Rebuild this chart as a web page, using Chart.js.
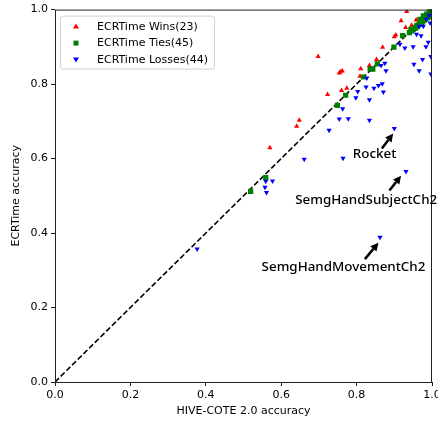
<!DOCTYPE html>
<html>
<head>
<meta charset="utf-8">
<script src="https://cdn.jsdelivr.net/npm/chart.js@4"></script>
<style>
  html, body { margin: 0; padding: 0; background: #fff; overflow: hidden; }
  #wrap { width: 438px; height: 423px; overflow: hidden; }
</style>
</head>
<body>
<div id="wrap"><canvas id="myChart" width="460" height="423" style="width:460px;height:423px"></canvas></div>
<script>
// ECRTime wins (above the diagonal)
const winsX = [0.933, 0.918, 0.930, 0.946, 0.904, 0.900, 0.921, 0.869, 0.698, 0.853, 0.834, 0.811,
    0.754, 0.762, 0.757, 0.809, 0.760, 0.774, 0.723, 0.648, 0.641, 0.570, 0.958];
const winsY = [0.995, 0.970, 0.952, 0.958, 0.932, 0.927, 0.930, 0.899, 0.874, 0.866, 0.850, 0.841,
    0.830, 0.835, 0.833, 0.821, 0.783, 0.789, 0.772, 0.703, 0.687, 0.629, 0.972];

// ties (on the diagonal)
const tiesX = [0.519, 0.559, 0.749, 0.771, 0.818, 0.836, 0.843, 0.855, 0.899, 0.922, 0.946, 0.959,
    0.968, 0.977, 0.986, 0.995, 1.000, 1.000, 1.000, 0.998, 0.997, 0.996, 0.994, 0.993, 0.991,
    0.990, 0.988, 0.987, 0.985, 0.983, 0.982, 0.980, 0.979, 0.976, 0.974, 0.972, 0.970, 0.966,
    0.963, 0.961, 0.957, 0.953, 0.950, 0.940, 0.944];
const tiesY = [0.512, 0.549, 0.743, 0.770, 0.819, 0.841, 0.840, 0.854, 0.899, 0.930, 0.943, 0.956,
    0.974, 0.983, 0.988, 0.996, 1.000, 0.997, 0.993, 0.995, 0.990, 0.998, 0.986, 0.992, 0.984,
    0.980, 0.985, 0.978, 0.982, 0.975, 0.979, 0.972, 0.976, 0.970, 0.968, 0.965, 0.962, 0.960,
    0.958, 0.955, 0.950, 0.951, 0.946, 0.938, 0.947];

// ECRTime losses (below the diagonal)
const lossX = [0.995, 0.977, 0.966, 0.959, 0.971, 0.990, 0.984, 0.950, 0.928, 0.915, 0.997, 0.975,
    0.952, 0.966, 0.997, 0.875, 0.865, 0.878, 0.827, 0.868, 0.858, 0.846, 0.825, 0.803, 0.871,
    0.798, 0.834, 0.763, 0.754, 0.778, 0.834, 0.727, 0.900, 0.661, 0.764, 0.931, 0.559, 0.577,
    0.557, 0.561, 0.862, 0.377, 0.985, 0.992];
const lossY = [0.964, 0.955, 0.955, 0.934, 0.930, 0.912, 0.900, 0.900, 0.897, 0.907, 0.874, 0.866,
    0.853, 0.836, 0.827, 0.856, 0.850, 0.836, 0.816, 0.801, 0.796, 0.789, 0.792, 0.780, 0.779,
    0.763, 0.758, 0.734, 0.706, 0.707, 0.703, 0.676, 0.681, 0.598, 0.601, 0.565, 0.539, 0.540,
    0.523, 0.509, 0.389, 0.357, 0.975, 0.985];

const legendLabels = ["ECRTime Wins(23)", "ECRTime Ties(45)", "ECRTime Losses(44)"];

// labelled datasets: text position, arrow tail and arrow tip (data units)
const annoLabels = ["Rocket", "SemgHandSubjectCh2", "SemgHandMovementCh2"];
const annoTextX = [0.790, 0.637, 0.548];
const annoTextY = [0.611, 0.487, 0.309];
const arrowFromX = [0.867, 0.887, 0.822];
const arrowFromY = [0.627, 0.514, 0.330];
const arrowToX = [0.897, 0.918, 0.858];
const arrowToY = [0.667, 0.554, 0.374];

const toPoints = (xs, ys) => xs.map((x, i) => ({ x: x, y: ys[i] }));

const tickFont = { family: "DejaVu Sans", size: 11 };

const extras = {
    id: "extras",
    afterDraw(chart) {
        const c = chart.ctx;
        const a = chart.chartArea;
        const sx = chart.scales.x, sy = chart.scales.y;
        c.save();
        // frame
        c.strokeStyle = "#222";
        c.lineWidth = 1;
        c.strokeRect(a.left + 0.5, a.top + 0.5, a.right - a.left - 1, a.bottom - a.top);

        // legend box
        const bx = a.left + 5, by = a.top + 6, bw = 154, bh = 53;
        c.fillStyle = "rgba(255,255,255,0.85)";
        c.strokeStyle = "#d0d0d0";
        c.beginPath();
        c.roundRect(bx + 0.5, by + 0.5, bw, bh, 3);
        c.fill();
        c.stroke();
        const colors = ["#ff0000", "#008000", "#0000ff"];
        c.font = "11px 'DejaVu Sans'";
        c.textBaseline = "middle";
        legendLabels.forEach((lbl, i) => {
            const my = by + 11 + i * 16.5, mx = bx + 16;
            c.fillStyle = colors[i];
            c.beginPath();
            if (i === 0) {
                c.moveTo(mx, my - 3); c.lineTo(mx + 3, my + 2); c.lineTo(mx - 3, my + 2);
            } else if (i === 1) {
                c.rect(mx - 2.5, my - 2.5, 5, 5);
            } else {
                c.moveTo(mx, my + 3); c.lineTo(mx + 3, my - 2); c.lineTo(mx - 3, my - 2);
            }
            c.closePath();
            c.fill();
            c.fillStyle = "#000";
            c.fillText(lbl, bx + 37, my + 0.5);
        });

        // annotations
        c.font = "500 13.4px 'Noto Sans'";
        c.textBaseline = "middle";
        c.textAlign = "left";
        annoLabels.forEach((lbl, i) => {
            c.fillStyle = "#000";
            c.fillText(lbl, sx.getPixelForValue(annoTextX[i]), sy.getPixelForValue(annoTextY[i]));
            const x0 = sx.getPixelForValue(arrowFromX[i]), y0 = sy.getPixelForValue(arrowFromY[i]);
            const x1 = sx.getPixelForValue(arrowToX[i]), y1 = sy.getPixelForValue(arrowToY[i]);
            const ang = Math.atan2(y1 - y0, x1 - x0);
            const hl = 8, hw = 4;
            const bxp = x1 - hl * Math.cos(ang), byp = y1 - hl * Math.sin(ang);
            c.strokeStyle = "#000";
            c.lineWidth = 2.5;
            c.beginPath();
            c.moveTo(x0, y0);
            c.lineTo(bxp, byp);
            c.stroke();
            c.beginPath();
            c.moveTo(x1, y1);
            c.lineTo(bxp + hw * Math.sin(ang), byp - hw * Math.cos(ang));
            c.lineTo(bxp - hw * Math.sin(ang), byp + hw * Math.cos(ang));
            c.closePath();
            c.fill();
        });
        c.restore();
    }
};

const ctx = document.getElementById("myChart");
new Chart(ctx, {
    type: "scatter",
    data: {
        datasets: [
            {
                type: "line",
                data: [{ x: 0, y: 0 }, { x: 1, y: 1 }],
                borderColor: "#000",
                borderWidth: 1.6,
                borderDash: [5.5, 2.5],
                pointRadius: 0,
                fill: false,
                order: 4,
            },
            {
                label: legendLabels[0],
                data: toPoints(winsX, winsY),
                pointStyle: "triangle",
                pointRadius: 3,
                backgroundColor: "#ff0000",
                borderWidth: 0,
                clip: 0,
                order: 3,
            },
            {
                label: legendLabels[1],
                data: toPoints(tiesX, tiesY),
                pointStyle: "rect",
                pointRadius: 3.7,
                backgroundColor: "#008000",
                borderWidth: 0,
                clip: 0,
                order: 2,
            },
            {
                label: legendLabels[2],
                data: toPoints(lossX, lossY),
                pointStyle: "triangle",
                rotation: 180,
                pointRadius: 3,
                backgroundColor: "#0000ff",
                borderWidth: 0,
                clip: 0,
                order: 1,
            },
        ],
    },
    options: {
        responsive: false,
        animation: false,
        layout: { padding: { left: 0, top: 7, right: 28, bottom: 0 } },
        plugins: { legend: { display: false }, tooltip: { enabled: false } },
        scales: {
            x: {
                type: "linear",
                min: 0,
                max: 1,
                ticks: { stepSize: 0.2, callback: (v) => v.toFixed(1), color: "#000", font: tickFont, padding: 3 },
                grid: { drawOnChartArea: false, tickLength: 4, color: "#222" },
                border: { display: false },
                title: { display: true, text: "HIVE-COTE 2.0 accuracy", color: "#000", font: tickFont, padding: 5 },
                afterFit: (s) => { s.height = 41; },
            },
            y: {
                type: "linear",
                min: 0,
                max: 1,
                ticks: { stepSize: 0.2, callback: (v) => v.toFixed(1), color: "#000", font: tickFont, padding: 3 },
                grid: { drawOnChartArea: false, tickLength: 4, color: "#222" },
                border: { display: false },
                title: { display: true, text: "ECRTime accuracy", color: "#000", font: tickFont, padding: 10 },
                afterFit: (s) => { s.width = 55; },
            },
        },
    },
    plugins: [extras],
});
</script>
</body>
</html>
